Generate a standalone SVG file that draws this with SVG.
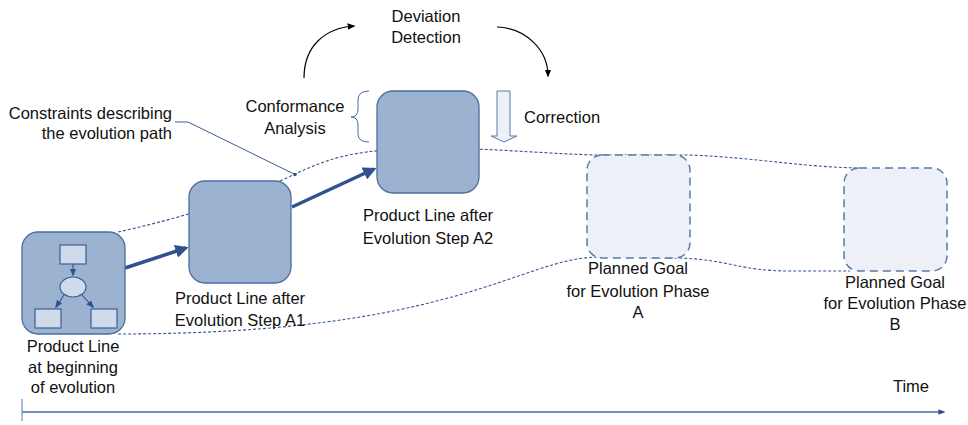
<svg xmlns="http://www.w3.org/2000/svg" width="968" height="425" viewBox="0 0 968 425">
<defs>
<style>
text{font-family:"Liberation Sans",Arial,sans-serif;font-size:16.5px;fill:#111}
.c{text-anchor:middle}
.node{fill:#9bb2d0;stroke:#4c6e9e;stroke-width:1.3}
.inner{fill:#cfdbeb;stroke:#3d5f91;stroke-width:1.2}
.goal{fill:#edf0f6;stroke:#5a7aa8;stroke-width:1.5;stroke-dasharray:8,5}
.path{fill:none;stroke:#34578f;stroke-width:1.1;stroke-dasharray:3,2}
.thick{fill:none;stroke:#2f528f;stroke-width:3.5}
.thin{fill:none;stroke:#000;stroke-width:1.2}
</style>
<marker id="ah" viewBox="0 0 10 10" refX="8" refY="5" markerWidth="3.8" markerHeight="3.8" orient="auto" markerUnits="strokeWidth"><path d="M0,0 L10,5 L0,10 z" fill="#2f528f"/></marker>
<marker id="ahs" viewBox="0 0 10 10" refX="8" refY="5" markerWidth="8" markerHeight="8" orient="auto" markerUnits="userSpaceOnUse"><path d="M0,1 L10,5 L0,9 z" fill="#2f528f"/></marker>
<marker id="ahb" viewBox="0 0 10 10" refX="8" refY="5" markerWidth="8" markerHeight="8" orient="auto" markerUnits="userSpaceOnUse"><path d="M0,1 L10,5 L0,9 z" fill="#000"/></marker>
<marker id="ahi" viewBox="0 0 10 10" refX="8" refY="5" markerWidth="7" markerHeight="7" orient="auto" markerUnits="userSpaceOnUse"><path d="M0,1 L10,5 L0,9 z" fill="#2f528f"/></marker>
</defs>
<g id="connectors">
<path class="path" d="M118,232 C190,216 250,196 295,174 C330,158 350,152 400,149 C470,146 530,153 595,155 L690,155 C760,158 800,167 860,168"/>
<path class="path" d="M118,334 C460,334 520,257 600,257 L680,258 C730,260 740,271 790,271 L850,271"/>
<circle cx="295" cy="174.5" r="1.8" fill="#2f528f"/>
<path d="M175,122 L188,122 L295,174.5" fill="none" stroke="#3b5e95" stroke-width="1"/>
<path class="thick" d="M125,268 L186,248" marker-end="url(#ah)"/>
<path class="thick" d="M292,207 L374,169" marker-end="url(#ah)"/>
<path class="thin" d="M304,78 C304,46 325,28 354,26" marker-end="url(#ahb)"/>
<path class="thin" d="M497,27 C526,28 548,50 548,76" marker-end="url(#ahb)"/>
<path d="M369,91 Q358,91 358,100 L358,109 Q358,117 351,117 Q358,117 358,125 L358,134 Q358,142 369,142" fill="none" stroke="#4c6e9e" stroke-width="1"/>
<polygon points="497,91 510,91 510,136 517,136 504,142 491,136 497,136" fill="#edf0f6" stroke="#5a7aa8" stroke-width="1"/>
<path d="M22,399 L22,421" stroke="#6f8fbf" stroke-width="1.2"/>
<path d="M22,412 L944,412" stroke="#6f8fbf" stroke-width="1.8" marker-end="url(#ahi)"/>
</g>
<g id="node-start">
<rect class="node" x="22" y="232" width="103" height="102" rx="16"/>
<rect class="inner" x="60" y="245" width="26" height="19"/>
<ellipse class="inner" cx="73" cy="287" rx="13" ry="10"/>
<rect class="inner" x="35" y="309" width="26" height="19"/>
<rect class="inner" x="91" y="309" width="26" height="19"/>
<path d="M73,264 L73,275" stroke="#2f528f" stroke-width="1.1" marker-end="url(#ahs)"/>
<path d="M64,295 L56,307" stroke="#2f528f" stroke-width="1.1" marker-end="url(#ahs)"/>
<path d="M82,295 L93,307" stroke="#2f528f" stroke-width="1.1" marker-end="url(#ahs)"/>
<text class="c" x="73" y="352">Product Line</text>
<text class="c" x="73" y="373">at beginning</text>
<text class="c" x="73" y="393">of evolution</text>
</g>
<g id="node-a1">
<rect class="node" x="189" y="181" width="102" height="102" rx="16"/>
<text class="c" x="240" y="304">Product Line after</text>
<text class="c" x="240" y="326">Evolution Step A1</text>
</g>
<g id="node-a2">
<rect class="node" x="377" y="91" width="102" height="102" rx="16"/>
<text class="c" x="428" y="221">Product Line after</text>
<text class="c" x="428" y="244">Evolution Step A2</text>
</g>
<g id="goal-a">
<rect class="goal" x="587" y="155" width="103" height="103" rx="15"/>
<text class="c" x="638" y="274">Planned Goal</text>
<text class="c" x="638" y="297">for Evolution Phase</text>
<text class="c" x="638" y="318">A</text>
</g>
<g id="goal-b">
<rect class="goal" x="844" y="168" width="103" height="103" rx="15"/>
<text class="c" x="895" y="288">Planned Goal</text>
<text class="c" x="895" y="309">for Evolution Phase</text>
<text class="c" x="895" y="330">B</text>
</g>
<g id="labels">
<text class="c" x="426" y="22">Deviation</text>
<text class="c" x="426" y="43">Detection</text>
<text class="c" x="295" y="112">Conformance</text>
<text class="c" x="295" y="134">Analysis</text>
<text x="524" y="123">Correction</text>
<text x="172" y="119" text-anchor="end">Constraints describing</text>
<text x="172" y="139" text-anchor="end">the evolution path</text>
<text class="c" x="911" y="392">Time</text>
</g>
</svg>
